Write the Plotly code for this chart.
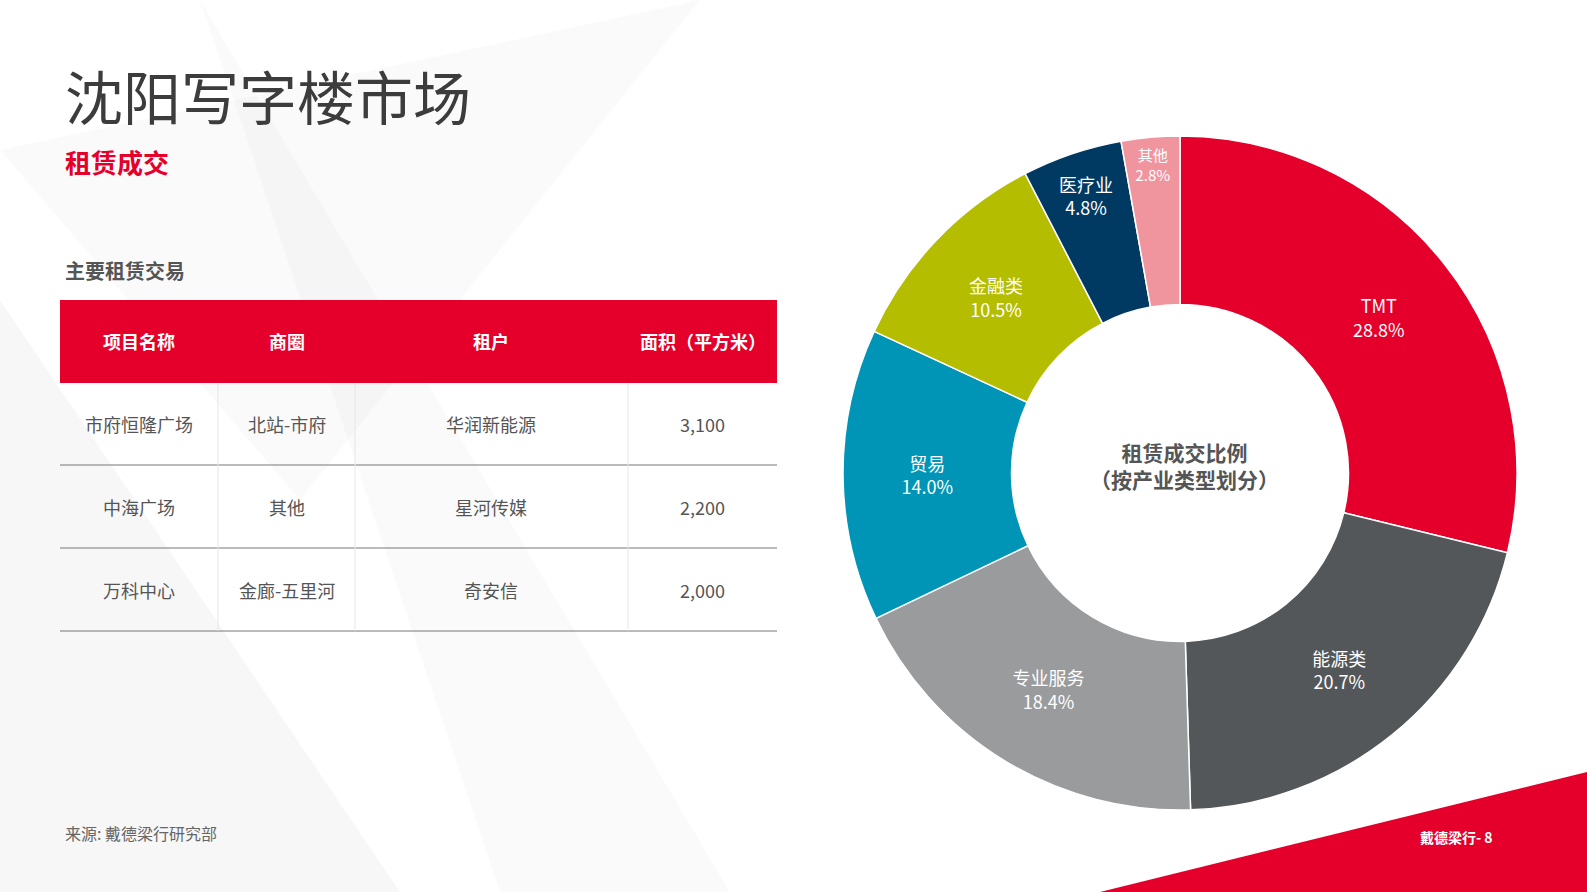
import plotly.graph_objects as go

W, H = 1587, 892
sectors = ["TMT", "能源类", "专业服务", "贸易", "金融类", "医疗业", "其他"]
shares = [28.8, 20.7, 18.4, 14.0, 10.5, 4.8, 2.8]
colors = ["#E4002B", "#54575A", "#9A9B9D", "#0095B6", "#B5BD00", "#003A63", "#F0949E"]

headers = ["项目名称", "商圈", "租户", "面积（平方米）"]
projects = ["市府恒隆广场", "中海广场", "万科中心"]
districts = ["北站-市府", "其他", "金廊-五里河"]
tenants = ["华润新能源", "星河传媒", "奇安信"]
areas = ["3,100", "2,200", "2,000"]

def px(x): return x / W
def py(y): return 1 - y / H

FONT = "Noto Sans CJK SC"
fig = go.Figure()
fig.add_trace(go.Pie(
    labels=sectors, values=shares, hole=0.5, sort=False, direction="clockwise", rotation=0,
    marker=dict(colors=colors, line=dict(color="white", width=1.5)),
    texttemplate="%{label}<br>%{value:.1f}%", textposition="inside",
    insidetextorientation="horizontal",
    textfont=dict(color="white", size=18, family=FONT),
    domain=dict(x=[px(843), px(1517)], y=[py(810), py(136)]), showlegend=False,
))

ann = [
    dict(x=px(63), y=py(95), text="沈阳写字楼市场", font=dict(size=58, color="#3C3C3C")),
    dict(x=px(63), y=py(162), text="<b>租赁成交</b>", font=dict(size=26, color="#E4002B")),
    dict(x=px(63), y=py(270), text="<b>主要租赁交易</b>", font=dict(size=20, color="#555555")),
    dict(x=px(63), y=py(833), text="来源: 戴德梁行研究部", font=dict(size=16, color="#666666")),
    dict(x=px(1418), y=py(837), text="<b>戴德梁行- 8</b>", font=dict(size=14, color="white")),
    dict(x=px(1184), y=py(465), xanchor="center", text="<b>租赁成交比例<br>（按产业类型划分）</b>",
         font=dict(size=21, color="#555555")),
]
# table
col_edges = [60, 218, 355, 628, 777]
row_edges = [300, 383, 465, 548, 631]
col_c = [(col_edges[i] + col_edges[i + 1]) / 2 for i in range(4)]
row_c = [(row_edges[i] + row_edges[i + 1]) / 2 for i in range(4)]
for j, h in enumerate(headers):
    ann.append(dict(x=px(col_c[j]), y=py(row_c[0]), xanchor="center", text=f"<b>{h}</b>",
                    font=dict(size=18, color="white")))
columns = [projects, districts, tenants, areas]
for j, col in enumerate(columns):
    for i, v in enumerate(col):
        ann.append(dict(x=px(col_c[j]), y=py(row_c[i + 1]), xanchor="center", text=v,
                        font=dict(size=18, color="#555555")))
for a in ann:
    a.setdefault("xanchor", "left")
    a.update(xref="paper", yref="paper", yanchor="middle", showarrow=False)
    a["font"]["family"] = FONT

shapes = [
    dict(type="path", xref="paper", yref="paper", layer="below",
         path=f"M 0,{py(300)} L {px(400)},{py(892)} L 0,{py(892)} Z",
         fillcolor="rgba(0,0,0,0.03)", line=dict(width=0)),
    dict(type="path", xref="paper", yref="paper", layer="below",
         path=f"M {px(200)},{py(0)} L {px(730)},{py(892)} L {px(500)},{py(892)} Z",
         fillcolor="rgba(0,0,0,0.02)", line=dict(width=0)),
    dict(type="path", xref="paper", yref="paper", layer="below",
         path=f"M 0,{py(150)} L {px(700)},{py(0)} L {px(300)},{py(500)} Z",
         fillcolor="rgba(0,0,0,0.02)", line=dict(width=0)),
    dict(type="path", xref="paper", yref="paper",
         path=f"M {px(1100)},{py(892)} L {px(1587)},{py(772)} L {px(1587)},{py(892)} Z",
         fillcolor="#E4002B", line=dict(width=0)),
    dict(type="rect", xref="paper", yref="paper", x0=px(60), x1=px(777), y0=py(383), y1=py(300),
         fillcolor="#E4002B", line=dict(width=0)),
]
for ye in row_edges[2:]:
    shapes.append(dict(type="line", xref="paper", yref="paper", x0=px(60), x1=px(777),
                       y0=py(ye), y1=py(ye), line=dict(color="#777777", width=1)))
for xe in col_edges[1:4]:
    shapes.append(dict(type="line", xref="paper", yref="paper", x0=px(xe), x1=px(xe),
                       y0=py(383), y1=py(631), line=dict(color="#E6E6E6", width=1)))

fig.update_layout(width=W, height=H, margin=dict(l=0, r=0, t=0, b=0),
                  paper_bgcolor="white", plot_bgcolor="white",
                  annotations=ann, shapes=shapes)
fig.write_html("out.html", config={"displayModeBar": False},
               post_script="document.body.style.margin='0';document.body.style.overflow='hidden';")
